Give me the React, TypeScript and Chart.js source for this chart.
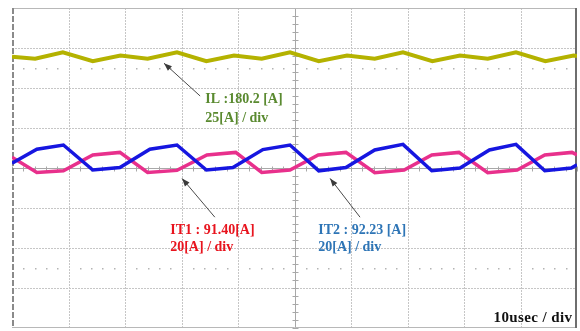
import React, { useEffect, useRef } from "react";
import { Chart, registerables } from "chart.js";

Chart.register(...registerables);

// time axis in microseconds (10 usec / div), vertical axis in divisions
const xTicks = [0, 10, 20, 30, 40, 50, 60, 70, 80, 90, 100];
const yTicks = [-4, -3, -2, -1, 0, 1, 2, 3, 4];
const markerRows = [2.5, -2.5];

// IL trace (olive)
const timeIL = [0, 4.1, 9.0, 14.3, 19.2, 24.0, 29.2, 34.4, 39.3, 44.2, 49.2, 54.3, 59.3, 64.2, 69.2, 74.4, 79.3, 84.2, 89.2, 94.4, 99.4, 100];
const valuesIL = [2.78, 2.73, 2.89, 2.67, 2.81, 2.73, 2.89, 2.67, 2.81, 2.73, 2.89, 2.67, 2.81, 2.73, 2.89, 2.67, 2.81, 2.73, 2.89, 2.67, 2.81, 2.8];

// IT1 trace (pink)
const timeIT1 = [0, 4.4, 9.1, 14.3, 19.1, 24.0, 29.2, 34.5, 39.6, 44.2, 49.2, 54.2, 59.1, 64.2, 69.4, 74.3, 79.1, 84.2, 89.4, 94.3, 99.1, 100];
const valuesIT1 = [0.27, -0.11, -0.07, 0.325, 0.39, -0.11, -0.06, 0.325, 0.39, -0.11, -0.05, 0.325, 0.39, -0.12, -0.05, 0.325, 0.39, -0.12, -0.05, 0.325, 0.39, 0.33];

// IT2 trace (blue)
const timeIT2 = [0, 4.4, 9.1, 14.3, 19.1, 24.4, 29.2, 34.4, 39.1, 44.4, 49.2, 54.3, 59.1, 64.2, 69.2, 74.3, 79.3, 84.5, 89.2, 94.3, 99.0, 100];
const valuesIT2 = [0.12, 0.47, 0.575, -0.05, 0.01, 0.47, 0.575, -0.05, 0.01, 0.46, 0.575, -0.07, 0.01, 0.45, 0.59, -0.07, 0.0, 0.45, 0.59, -0.07, 0.0, 0.08];

// annotation texts
const ilLines = ["IL :180.2 [A]", "25[A] / div"];
const it1Lines = ["IT1 : 91.40[A]", "20[A] / div"];
const it2Lines = ["IT2 : 92.23 [A]", "20[A] / div"];
const timeBaseLabel = "10usec / div";

const toPoints = (xs: number[], ys: number[]) => xs.map((t, i) => ({ x: t, y: ys[i] }));

const FONT = 'bold 14px "Liberation Serif", "DejaVu Serif", serif';
const TB_FONT = 'bold 15px "Liberation Serif", "DejaVu Serif", serif';

function drawArrow(ctx: CanvasRenderingContext2D, x1: number, y1: number, x2: number, y2: number) {
  ctx.save();
  ctx.strokeStyle = "#4a4a4a";
  ctx.fillStyle = "#3a3a3a";
  ctx.lineWidth = 1;
  ctx.setLineDash([]);
  ctx.beginPath();
  ctx.moveTo(x1, y1);
  ctx.lineTo(x2, y2);
  ctx.stroke();
  const ang = Math.atan2(y2 - y1, x2 - x1);
  const len = 8;
  const w = 3;
  ctx.beginPath();
  ctx.moveTo(x2, y2);
  ctx.lineTo(x2 - len * Math.cos(ang) + w * Math.sin(ang), y2 - len * Math.sin(ang) - w * Math.cos(ang));
  ctx.lineTo(x2 - len * Math.cos(ang) - w * Math.sin(ang), y2 - len * Math.sin(ang) + w * Math.cos(ang));
  ctx.closePath();
  ctx.fill();
  ctx.restore();
}

const scopePlugin = {
  id: "scopeScreen",
  beforeDatasetsDraw(chart: any) {
    const { ctx, chartArea: a, scales } = chart;
    const x = scales.x;
    const y = scales.y;
    ctx.save();
    // dotted grid
    ctx.strokeStyle = "#c6c6c6";
    ctx.lineWidth = 1;
    ctx.setLineDash([2, 1]);
    for (const t of xTicks) {
      if (t === 0 || t === 100 || t === 50) continue;
      const px = Math.round(x.getPixelForValue(t)) + 0.5;
      ctx.beginPath();
      ctx.moveTo(px, a.top);
      ctx.lineTo(px, a.bottom);
      ctx.stroke();
    }
    for (const v of yTicks) {
      if (v === -4 || v === 4 || v === 0) continue;
      const py = Math.round(y.getPixelForValue(v)) + 0.5;
      ctx.beginPath();
      ctx.moveTo(a.left, py);
      ctx.lineTo(a.right, py);
      ctx.stroke();
    }
    ctx.setLineDash([]);
    // marker dot rows
    ctx.fillStyle = "#b4b4b4";
    for (const v of markerRows) {
      const py = Math.round(y.getPixelForValue(v));
      for (let t = 0; t < 100; t += 2) {
        if (t % 10 === 0) continue;
        const px = Math.round(x.getPixelForValue(t));
        ctx.fillRect(px, py, 1.5, 1.5);
      }
    }
    // center cross with minor ticks
    ctx.strokeStyle = "#a8a8a8";
    ctx.lineWidth = 1;
    const cx = Math.round(x.getPixelForValue(50)) + 0.5;
    const cy = Math.round(y.getPixelForValue(0)) + 0.5;
    ctx.beginPath();
    ctx.moveTo(cx, a.top);
    ctx.lineTo(cx, a.bottom);
    ctx.moveTo(a.left, cy);
    ctx.lineTo(a.right, cy);
    ctx.stroke();
    ctx.beginPath();
    for (let t = 0; t <= 100; t += 2) {
      const px = Math.round(x.getPixelForValue(t)) + 0.5;
      ctx.moveTo(px, cy - 2);
      ctx.lineTo(px, cy + 3);
    }
    for (let v = -4; v <= 4.001; v += 0.2) {
      const py = Math.round(y.getPixelForValue(v)) + 0.5;
      ctx.moveTo(cx - 3, py);
      ctx.lineTo(cx + 3, py);
    }
    ctx.stroke();
    // frame
    ctx.strokeStyle = "#b8b8b8";
    ctx.beginPath();
    ctx.moveTo(a.left, a.top + 0.5);
    ctx.lineTo(a.right, a.top + 0.5);
    ctx.moveTo(a.left, a.bottom - 0.5);
    ctx.lineTo(a.right, a.bottom - 0.5);
    ctx.stroke();
    ctx.strokeStyle = "#8a8a8a";
    ctx.lineWidth = 2;
    ctx.setLineDash([6, 2]);
    ctx.beginPath();
    ctx.moveTo(a.left + 1, a.top);
    ctx.lineTo(a.left + 1, a.bottom);
    ctx.stroke();
    ctx.setLineDash([]);
    ctx.strokeStyle = "#6e6e6e";
    ctx.beginPath();
    ctx.moveTo(a.right - 1, a.top);
    ctx.lineTo(a.right - 1, a.bottom);
    ctx.stroke();
    ctx.restore();
  },
  afterDatasetsDraw(chart: any) {
    const { ctx, scales } = chart;
    const x = scales.x;
    const y = scales.y;
    const px = (t: number) => x.getPixelForValue(t);
    const py = (v: number) => y.getPixelForValue(v);
    // arrows
    drawArrow(ctx, px(33.3), py(1.8), px(26.9), py(2.62));
    drawArrow(ctx, px(35.9), py(-1.23), px(30.1), py(-0.26));
    drawArrow(ctx, px(61.6), py(-1.23), px(56.3), py(-0.26));
    ctx.save();
    ctx.font = FONT;
    ctx.textBaseline = "alphabetic";
    ctx.textAlign = "left";
    ctx.fillStyle = "#5a8a30";
    ctx.fillText(ilLines[0], px(34.2), py(1.625));
    ctx.fillText(ilLines[1], px(34.2), py(1.15));
    ctx.fillStyle = "#e8141e";
    ctx.fillText(it1Lines[0], px(28.0), py(-1.65));
    ctx.fillText(it1Lines[1], px(28.0), py(-2.075));
    ctx.fillStyle = "#2e75b6";
    ctx.fillText(it2Lines[0], px(54.2), py(-1.65));
    ctx.fillText(it2Lines[1], px(54.2), py(-2.075));
    ctx.fillStyle = "#111111";
    ctx.textAlign = "right";
    ctx.font = TB_FONT;
    (ctx as any).letterSpacing = "0.4px";
    ctx.fillText(timeBaseLabel, px(99.2), py(-3.85));
    (ctx as any).letterSpacing = "0px";
    ctx.restore();
  },
};

export default function App() {
  const canvasRef = useRef<HTMLCanvasElement | null>(null);

  useEffect(() => {
    const canvas = canvasRef.current;
    if (!canvas) return;
    const chart = new Chart(canvas, {
      type: "line",
      data: {
        datasets: [
          {
            label: "IT2",
            data: toPoints(timeIT2, valuesIT2),
            borderColor: "#1616e0",
            borderWidth: 3.5,
            pointRadius: 0,
            tension: 0,
          },
          {
            label: "IT1",
            data: toPoints(timeIT1, valuesIT1),
            borderColor: "#e8308c",
            borderWidth: 3.5,
            pointRadius: 0,
            tension: 0,
          },
          {
            label: "IL",
            data: toPoints(timeIL, valuesIL),
            borderColor: "#b4b200",
            borderWidth: 4,
            pointRadius: 0,
            tension: 0,
          },
        ],
      },
      options: {
        responsive: false,
        animation: false,
        devicePixelRatio: 1,
        layout: { padding: { left: 12, top: 8, right: 3, bottom: 3 } },
        plugins: {
          legend: { display: false },
          tooltip: { enabled: false },
        },
        events: [],
        scales: {
          x: { type: "linear", min: 0, max: 100, display: false },
          y: { type: "linear", min: -4, max: 4, display: false },
        },
      },
      plugins: [scopePlugin],
    });
    return () => chart.destroy();
  }, []);

  return (
    <div style={{ position: "absolute", left: 0, top: 0, width: 580, height: 331, background: "#ffffff" }}>
      <canvas ref={canvasRef} width={580} height={331} style={{ display: "block", width: 580, height: 331 }} />
    </div>
  );
}
